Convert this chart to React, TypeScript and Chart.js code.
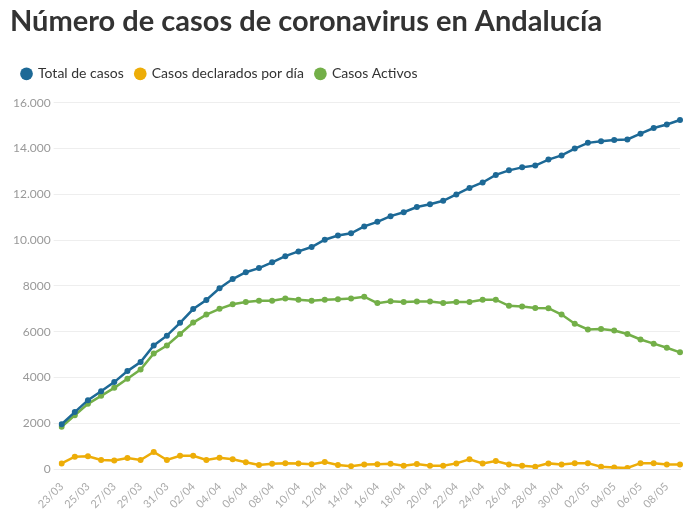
import React, { useEffect, useRef } from "react";
import { Chart, registerables } from "chart.js";
Chart.register(...registerables);

const labels: string[] = [];
(() => {
  for (let d = 23; d <= 31; d++) labels.push(`${d}/03`);
  for (let d = 1; d <= 30; d++) labels.push(`${String(d).padStart(2, "0")}/04`);
  for (let d = 1; d <= 9; d++) labels.push(`${String(d).padStart(2, "0")}/05`);
})();

const totalCasos = [1960,2490,3010,3400,3800,4280,4680,5400,5830,6390,6990,7390,7900,8300,8600,8780,9030,9300,9510,9700,10020,10200,
  10300,10600,10800,11050,11220,11450,11570,11720,12000,12280,12520,12850,13050,13180,13260,13520,13700,14000,14250,14320,14380,14400,14650,14900,15050,15250];
const casosDia = [250,540,560,400,380,480,400,750,400,580,580,400,500,430,300,180,230,260,250,210,310,180,
  130,200,210,230,150,220,150,150,250,430,250,350,200,150,100,250,200,260,260,100,70,50,260,260,200,200];
const casosActivos = [1850,2350,2850,3200,3550,3950,4350,5050,5400,5900,6400,6750,7000,7200,7300,7350,7350,7450,7400,7350,7400,7420,
  7450,7530,7250,7330,7300,7320,7320,7260,7300,7300,7400,7400,7130,7100,7040,7030,6750,6350,6100,6120,6050,5900,5660,5480,5300,5100];

const fmt = (v: number) => (v >= 10000 ? `${Math.floor(v / 1000)}.${String(v % 1000).padStart(3, "0")}` : String(v));

const legendMargin = {
  id: "legendMargin",
  beforeInit(chart: any) {
    const orig = chart.legend.fit;
    chart.legend.fit = function () {
      orig.bind(chart.legend)();
      this.height += 12;
    };
  },
};

export default function App() {
  const ref = useRef<HTMLCanvasElement>(null);
  useEffect(() => {
    document.body.style.margin = "0";
    const mk = (label: string, data: number[], color: string) => ({
      label, data, borderColor: color, backgroundColor: color, pointBackgroundColor: color,
      borderWidth: 2.5, pointRadius: 3, pointBorderWidth: 0, pointHoverRadius: 3, tension: 0, pointStyle: "circle" as const,
    });
    const chart = new Chart(ref.current!, {
      type: "line",
      data: {
        labels,
        datasets: [
          mk("Total de casos", totalCasos, "#1d6996"),
          mk("Casos declarados por día", casosDia, "#edad08"),
          mk("Casos Activos", casosActivos, "#73af48"),
        ],
      },
      plugins: [legendMargin],
      options: {
        animation: false,
        responsive: false,
        layout: { padding: { left: 10, right: 20, top: 2, bottom: 0 } },
        plugins: {
          title: {
            display: true, text: "Número de casos de coronavirus en Andalucía", align: "start",
            color: "#333", font: { family: "Lato", size: 29, weight: "bold" }, padding: { top: 2, bottom: 16 },
          },
          legend: {
            align: "start",
            labels: { usePointStyle: true, pointStyle: "circle", boxWidth: 9, boxHeight: 9, color: "#333", font: { family: "Lato", size: 14 }, padding: 12 },
          },
          tooltip: { enabled: false },
        },
        scales: {
          x: {
            grid: { display: false },
            border: { color: "#ddd" },
            ticks: {
              autoSkip: false, maxRotation: 45, minRotation: 45, color: "#aaa", font: { family: "Lato", size: 11 },
              callback: (_v: any, i: number) => (i % 2 === 0 ? labels[i] : ""),
            },
          },
          y: {
            min: 0, max: 16000,
            ticks: { stepSize: 2000, color: "#999", font: { family: "Lato", size: 12 }, callback: (v: any) => fmt(Number(v)) },
            grid: { color: "#eee" },
            border: { display: false },
          },
        },
      },
    });
    return () => chart.destroy();
  }, []);
  return <canvas ref={ref} width={700} height={514} />;
}
